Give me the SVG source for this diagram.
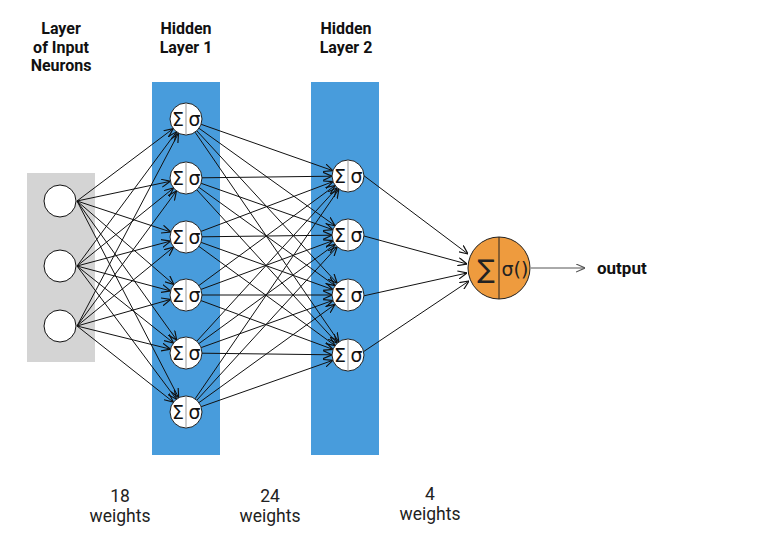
<svg xmlns="http://www.w3.org/2000/svg" width="774" height="544" viewBox="0 0 774 544">
<defs>
<marker id="arr" viewBox="0 0 10 10" refX="10" refY="5" markerWidth="9" markerHeight="9" markerUnits="userSpaceOnUse" orient="auto">
<path d="M0,0.5 L10,5 L0,9.5" fill="none" stroke="#111" stroke-width="1.3"/>
</marker>
<marker id="arrg" viewBox="0 0 10 10" refX="10" refY="5" markerWidth="9" markerHeight="9" markerUnits="userSpaceOnUse" orient="auto">
<path d="M0,0.5 L10,5 L0,9.5" fill="none" stroke="#555" stroke-width="1.3"/>
</marker>
</defs>
<style>
.lbl{font-family:Roboto,"Liberation Sans",sans-serif;font-weight:bold;font-size:16px;fill:#111;text-anchor:middle}
.wt{font-family:Roboto,"Liberation Sans",sans-serif;font-size:17.5px;fill:#222;text-anchor:middle}
.in{fill:#fff;stroke:#111;stroke-width:1}
.hn{fill:#fff;stroke:#222;stroke-width:1}
.dv{stroke:#999;stroke-width:1}
.sg{font-family:"DejaVu Sans",sans-serif;font-size:19px;fill:#111;text-anchor:middle}
.c line{stroke:#111;stroke-width:1;marker-end:url(#arr)}
</style>
<rect width="774" height="544" fill="#fff"/>
<g id="layers">
<rect x="27" y="173" width="68" height="189" fill="#D4D4D4"/>
<rect x="152" y="82" width="68" height="373" fill="#489CDC"/>
<rect x="311" y="82" width="68" height="373" fill="#489CDC"/>
</g>
<g id="labels">
<text class="lbl" x="61" y="34">Layer</text>
<text class="lbl" x="61" y="53">of Input</text>
<text class="lbl" x="61" y="71">Neurons</text>
<text class="lbl" x="186" y="34">Hidden</text>
<text class="lbl" x="186" y="53">Layer 1</text>
<text class="lbl" x="346" y="34">Hidden</text>
<text class="lbl" x="346" y="53">Layer 2</text>
<text class="wt" x="120" y="502">18</text>
<text class="wt" x="120" y="522">weights</text>
<text class="wt" x="270" y="502">24</text>
<text class="wt" x="270" y="522">weights</text>
<text class="wt" x="430" y="500">4</text>
<text class="wt" x="430" y="520">weights</text>
<text x="597" y="274" style="font-family:Roboto,'Liberation Sans',sans-serif;font-weight:bold;font-size:17px;fill:#111">output</text>
</g>
<g id="connectors" class="c">
<line x1="77" y1="201" x2="173.2" y2="128.6"/>
<line x1="77" y1="201" x2="170.3" y2="181.3"/>
<line x1="77" y1="201" x2="170.8" y2="232"/>
<line x1="77" y1="201" x2="173.9" y2="284.6"/>
<line x1="77" y1="201" x2="176.7" y2="340"/>
<line x1="77" y1="201" x2="178.7" y2="397.8"/>
<line x1="77" y1="266" x2="176.5" y2="131.8"/>
<line x1="77" y1="266" x2="173.6" y2="188"/>
<line x1="77" y1="266" x2="170.5" y2="241.1"/>
<line x1="77" y1="266" x2="170.5" y2="290.9"/>
<line x1="77" y1="266" x2="173.5" y2="343"/>
<line x1="77" y1="266" x2="176.4" y2="399.2"/>
<line x1="77" y1="326" x2="178.5" y2="133.2"/>
<line x1="77" y1="326" x2="176.5" y2="190.9"/>
<line x1="77" y1="326" x2="173.6" y2="247.1"/>
<line x1="77" y1="326" x2="170.6" y2="299.4"/>
<line x1="77" y1="326" x2="170.5" y2="349.2"/>
<line x1="77" y1="326" x2="173.4" y2="402.1"/>
<line x1="201.1" y1="124.3" x2="332.9" y2="170.7"/>
<line x1="199" y1="128.3" x2="335" y2="225.7"/>
<line x1="196.8" y1="130.8" x2="337.2" y2="283.2"/>
<line x1="195.1" y1="132.2" x2="338.9" y2="341.8"/>
<line x1="202" y1="177.8" x2="332" y2="176.2"/>
<line x1="201.1" y1="183.3" x2="332.9" y2="229.7"/>
<line x1="199" y1="187.4" x2="335" y2="285.6"/>
<line x1="196.8" y1="189.8" x2="337.2" y2="343.2"/>
<line x1="201" y1="231.4" x2="333" y2="181.6"/>
<line x1="202" y1="236.8" x2="332" y2="235.2"/>
<line x1="201.1" y1="242.4" x2="332.9" y2="289.6"/>
<line x1="198.9" y1="246.4" x2="335.1" y2="345.6"/>
<line x1="198.9" y1="285.5" x2="335.1" y2="185.5"/>
<line x1="201" y1="289.4" x2="333" y2="240.6"/>
<line x1="202" y1="295" x2="332" y2="295"/>
<line x1="201" y1="300.6" x2="333" y2="349.4"/>
<line x1="196.8" y1="341.2" x2="337.2" y2="187.8"/>
<line x1="198.9" y1="343.6" x2="335.1" y2="244.4"/>
<line x1="201.1" y1="347.6" x2="332.9" y2="300.4"/>
<line x1="202" y1="353.2" x2="332" y2="354.8"/>
<line x1="195.1" y1="398.8" x2="338.9" y2="189.2"/>
<line x1="196.8" y1="400.2" x2="337.2" y2="246.8"/>
<line x1="199" y1="402.6" x2="335" y2="304.4"/>
<line x1="201.1" y1="406.7" x2="332.9" y2="360.3"/>
<line x1="363" y1="175" x2="468" y2="254"/>
<line x1="364" y1="236" x2="467" y2="264"/>
<line x1="363" y1="296" x2="467" y2="273"/>
<line x1="363" y1="352" x2="469" y2="281"/>
<line x1="531" y1="268" x2="585" y2="268" style="stroke:#555;marker-end:url(#arrg)"/>
</g>
<g id="in1"><circle class="in" cx="60" cy="201" r="16"/></g>
<g id="in2"><circle class="in" cx="60" cy="266" r="16"/></g>
<g id="in3"><circle class="in" cx="60" cy="326" r="16"/></g>
<g id="h1n1"><circle class="hn" cx="186" cy="119" r="16"/><line class="dv" x1="186" y1="103" x2="186" y2="135"/><text class="sg" x="178" y="126">Σ</text><text class="sg" x="194.5" y="126">σ</text></g>
<g id="h1n2"><circle class="hn" cx="186" cy="178" r="16"/><line class="dv" x1="186" y1="162" x2="186" y2="194"/><text class="sg" x="178" y="185">Σ</text><text class="sg" x="194.5" y="185">σ</text></g>
<g id="h1n3"><circle class="hn" cx="186" cy="237" r="16"/><line class="dv" x1="186" y1="221" x2="186" y2="253"/><text class="sg" x="178" y="244">Σ</text><text class="sg" x="194.5" y="244">σ</text></g>
<g id="h1n4"><circle class="hn" cx="186" cy="295" r="16"/><line class="dv" x1="186" y1="279" x2="186" y2="311"/><text class="sg" x="178" y="302">Σ</text><text class="sg" x="194.5" y="302">σ</text></g>
<g id="h1n5"><circle class="hn" cx="186" cy="353" r="16"/><line class="dv" x1="186" y1="337" x2="186" y2="369"/><text class="sg" x="178" y="360">Σ</text><text class="sg" x="194.5" y="360">σ</text></g>
<g id="h1n6"><circle class="hn" cx="186" cy="412" r="16"/><line class="dv" x1="186" y1="396" x2="186" y2="428"/><text class="sg" x="178" y="419">Σ</text><text class="sg" x="194.5" y="419">σ</text></g>
<g id="h2n1"><circle class="hn" cx="348" cy="176" r="16"/><line class="dv" x1="348" y1="160" x2="348" y2="192"/><text class="sg" x="340" y="183">Σ</text><text class="sg" x="356.5" y="183">σ</text></g>
<g id="h2n2"><circle class="hn" cx="348" cy="235" r="16"/><line class="dv" x1="348" y1="219" x2="348" y2="251"/><text class="sg" x="340" y="242">Σ</text><text class="sg" x="356.5" y="242">σ</text></g>
<g id="h2n3"><circle class="hn" cx="348" cy="295" r="16"/><line class="dv" x1="348" y1="279" x2="348" y2="311"/><text class="sg" x="340" y="302">Σ</text><text class="sg" x="356.5" y="302">σ</text></g>
<g id="h2n4"><circle class="hn" cx="348" cy="355" r="16"/><line class="dv" x1="348" y1="339" x2="348" y2="371"/><text class="sg" x="340" y="362">Σ</text><text class="sg" x="356.5" y="362">σ</text></g>
<g id="out"><circle cx="499" cy="268" r="31" fill="#EE9B3E" stroke="#222" stroke-width="1"/><line x1="499" y1="237" x2="499" y2="299" stroke="#222" stroke-width="1"/><text x="486" y="278" style="font-family:'DejaVu Sans',sans-serif;font-size:26px;fill:#222;text-anchor:middle">∑</text><text x="515" y="276" style="font-family:'DejaVu Sans',sans-serif;font-size:19px;fill:#222;text-anchor:middle">σ()</text></g>
</svg>
